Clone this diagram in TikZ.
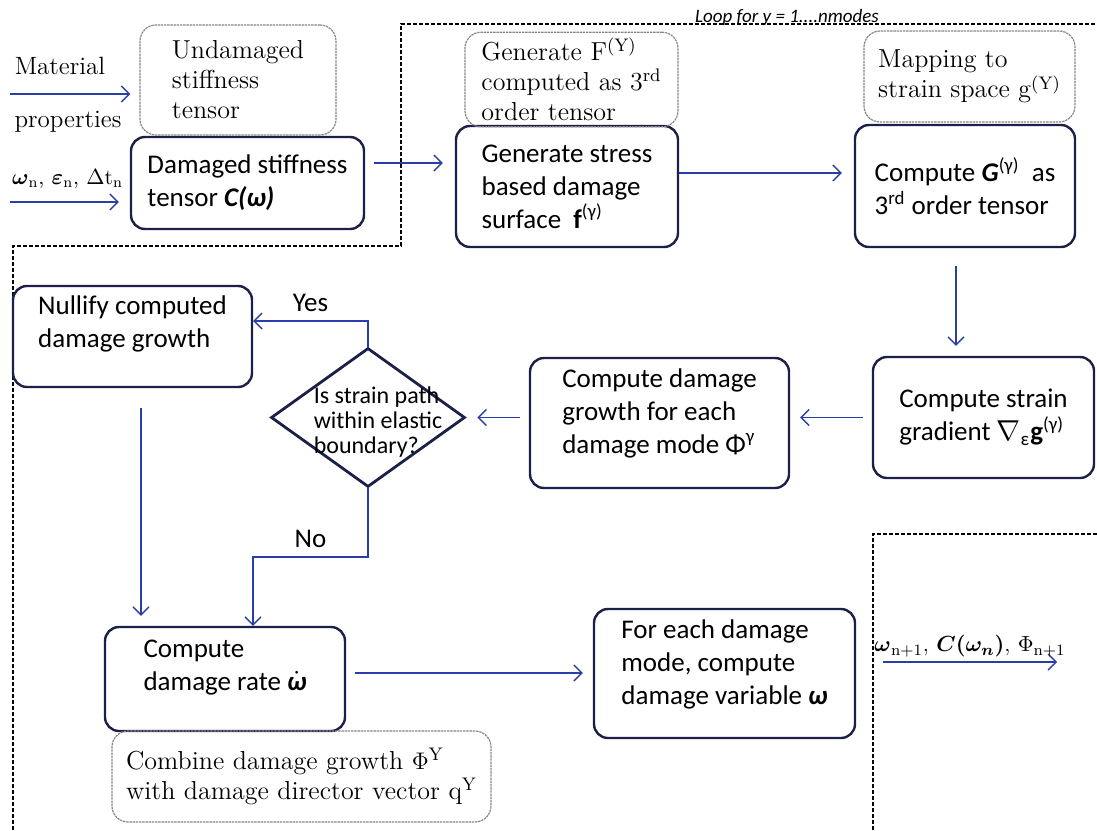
\documentclass[tikz,border=0pt]{standalone}
\usepackage{fontspec}
\usepackage{amsmath}
\usetikzlibrary{arrows.meta,shapes.geometric,positioning}
\newfontfamily\boxfont{Carlito}
\definecolor{boxline}{RGB}{28,32,72}
\definecolor{flowblue}{RGB}{42,62,168}
\definecolor{notegray}{RGB}{135,135,135}

\begin{document}
\begin{tikzpicture}[
        x=0.5pt, y=-0.5pt,
        procbox/.style={
            draw=boxline, line width=1.2pt,
            rectangle, rounded corners=7pt,
            align=left, inner sep=3pt,
            font=\boxfont\fontsize{13.5}{16.5}\selectfont
        },
        notebox/.style={
            draw=notegray, line width=0.6pt,
            dash pattern=on 1.2pt off 0.4pt,
            rounded corners=8pt, align=left, inner sep=3pt,
            font=\fontsize{13}{15}\selectfont
        },
        decision/.style={
            draw=boxline, line width=1.4pt,
            diamond, inner sep=0pt
        },
        flow/.style={->, draw=flowblue, line width=0.7pt},
        loopline/.style={draw=black, line width=0.6pt, dash pattern=on 2pt off 1pt},
        lbl/.style={inner sep=1pt, font=\fontsize{12.5}{15}\selectfont},
        >={Straight Barb[length=4pt,width=8pt]}
      ]

  \useasboundingbox (0,0) rectangle (1097,830);

  % loop boundaries
  \draw[loopline] (13,830) -- (13,246) -- (401,246) -- (401,24) -- (1097,24);
  \draw[loopline] (873,830) -- (873,534) -- (1097,534);
  \node (looplabel) at (787,23) [anchor=base, inner sep=0pt,
        font=\boxfont\itshape\fontsize{9.5}{11}\selectfont] {Loop for y = 1....nmodes};

  % top row
  \node (damaged) at (247.5,183) [procbox, minimum width=116.5pt, minimum height=46pt]
        {Damaged stiffness\\tensor \textbf{\textit{C(ω)}}};
  \node (undamaged) at (238,80) [notebox, minimum width=98pt, minimum height=55pt]
        {Undamaged\\stiffness\\tensor};
  \node (genstress) at (567,186.5) [procbox, minimum width=111pt, minimum height=60.5pt, text depth=0pt]
        {Generate stress\\based damage\\surface \ \textbf{f}\textsuperscript{(γ)}};
  \node (genF) at (571.5,79.5) [notebox, minimum width=106.5pt, minimum height=46.5pt]
        {Generate F\textsuperscript{(Y)}\\computed as 3\textsuperscript{rd}\\order tensor};
  \node (computeG) at (965,186) [procbox, minimum width=110pt, minimum height=61pt]
        {Compute \textbf{\textit{G}}\textsuperscript{(γ)} \ as\\3\textsuperscript{rd} order tensor};
  \node (mapping) at (969.5,76.5) [notebox, minimum width=105.5pt, minimum height=45.5pt]
        {Mapping to\\strain space g\textsuperscript{(Y)}};

  % middle row
  \node (strain) at (983.5,417.5) [procbox, minimum width=110.5pt, minimum height=60.5pt]
        {Compute strain\\gradient $\nabla$\textsubscript{ε}\textbf{g}\textsuperscript{(γ)}};
  \node (growth) at (659.5,423) [procbox, minimum width=129.5pt, minimum height=65pt, text depth=12pt]
        {Compute damage\\growth for each\\damage mode Φ\textsuperscript{γ}};
  \node (decision) at (368,417.5) [decision, minimum width=97pt, minimum height=69.5pt] {};
  \node (qtext) at ([xshift=5pt,yshift=-2.25pt]decision.center) [inner sep=0pt, align=left,
        font=\boxfont\fontsize{12}{12.4}\selectfont] {Is strain path\\within elastic\\boundary?};
  \node (nullify) at (132.5,336.5) [procbox, minimum width=119.5pt, minimum height=50.5pt, text depth=15pt]
        {Nullify computed\\damage growth};

  % bottom row
  \node (rate) at (225,679) [procbox, minimum width=120pt, minimum height=52pt, text depth=13.5pt]
        {Compute\\damage rate $\dot{\text{\bfseries\itshape ω}}$};
  \node (combine) at (301.5,776.5) [notebox, minimum width=189.5pt, minimum height=45.5pt]
        {Combine damage growth $\Phi$\textsuperscript{Y}\\with damage director vector q\textsuperscript{Y}};
  \node (foreach) at (724.5,673.5) [procbox, minimum width=130.5pt, minimum height=64.5pt, text depth=11pt]
        {For each damage\\mode, compute\\damage variable \textbf{\textit{ω}}};

  % inputs
  \node (matlabel) at (60,66) [lbl] {Material};
  \node (proplabel) at (68,122) [lbl] {properties};
  \node (statelabel) at (67.5,179) [lbl, font=\fontsize{10.8}{13}\selectfont]
        {$\boldsymbol{\omega}_{\mathrm{n}}$, $\boldsymbol{\varepsilon}_{\mathrm{n}}$, $\Delta\mathrm{t}_{\mathrm{n}}$};
  \coordinate (matin) at (10,94);
  \coordinate (statein) at (10,202);
  \draw[flow, shorten >=4.5pt] (matin) -- (matin -| undamaged.west);
  \draw[flow, shorten >=5.5pt] (statein) -- (statein -| damaged.west);

  % flow
  \draw[flow, shorten <=4.5pt, shorten >=6pt] ([yshift=10pt]damaged.east) -- ([yshift=10pt]damaged.east -| genstress.west);
  \draw[flow, shorten >=6pt] ([yshift=6.75pt]genstress.east) -- ([yshift=6.75pt]genstress.east -| computeG.west);
  \draw[flow, shorten <=9pt, shorten >=5pt] ([xshift=-4.5pt]computeG.south) -- ([xshift=-4.5pt]computeG.south |- strain.north);
  \draw[flow, shorten <=4.5pt, shorten >=5pt] (strain.west) -- (strain.west -| growth.east);
  \draw[flow, shorten <=4.5pt, shorten >=5.5pt] (growth.west |- decision.east) -- (decision.east);
  \draw[flow] (decision.north) |- node[pos=0.75, above=1pt, font=\boxfont\fontsize{13.5}{16}\selectfont] (yes) {Yes}
        ([yshift=7.75pt]nullify.east);
  \coordinate (nobend) at (253,557);
  \draw[flow] (decision.south) |- node[pos=0.75, above=1pt, font=\boxfont\fontsize{13.5}{16}\selectfont] (no) {No}
        (nobend) -- (nobend |- rate.north);
  \draw[flow, shorten <=10pt, shorten >=5pt] ([xshift=4.25pt]nullify.south) -- ([xshift=4.25pt]nullify.south |- rate.north);
  \draw[flow, shorten <=4.5pt, shorten >=5pt] ([yshift=3pt]rate.east) -- ([yshift=3pt]rate.east -| foreach.west);

  % output
  \coordinate (outstart) at (883,662);
  \coordinate (outend) at (1057,662);
  \draw[flow] (outstart) -- node[above=1pt, lbl, font=\fontsize{11.25}{13}\selectfont] (outlabel)
        {$\boldsymbol{\omega}_{\mathrm{n+1}}$, $\boldsymbol{C(\omega_n)}$, $\Phi_{\mathrm{n+1}}$} (outend);

\end{tikzpicture}
\end{document}
